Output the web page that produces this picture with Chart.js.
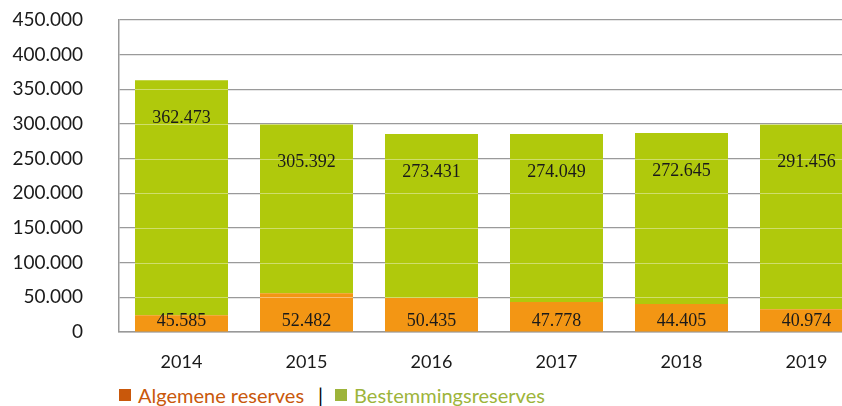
<!DOCTYPE html>
<html>
<head>
<meta charset="utf-8">
<script src="https://cdn.jsdelivr.net/npm/chart.js@4"></script>
<style>
  html, body { margin: 0; padding: 0; background: #fff; }
  #page { position: relative; width: 842px; height: 406px; overflow: hidden; }
  #chart { position: absolute; left: 0; top: 0; }
  #legend {
    position: absolute; left: 119px; top: 383px;
    font-family: Lato, sans-serif; font-size: 20px; line-height: 24px;
    display: flex; align-items: center; white-space: nowrap;
  }
  #legend .sq { display: inline-block; width: 12px; height: 12px; margin-right: 7px; }
  #legend .sep { color: #000; margin: 0 12px 0 14px; }
</style>
</head>
<body>
<div id="page">
  <canvas id="chart" width="870" height="372"></canvas>
  <div id="legend">
    <span class="sq" style="background:#c9580b"></span><span style="color:#c9580b">Algemene reserves</span>
    <span class="sep">|</span>
    <span class="sq" style="background:#9db43a"></span><span style="color:#9db43a">Bestemmingsreserves</span>
  </div>
</div>
<script>
// data
const years = ['2014', '2015', '2016', '2017', '2018', '2019'];
const algemene = [24100, 55900, 49100, 43300, 40400, 32800];
const bestemming = [338900, 243900, 236300, 242100, 246500, 266600];
// printed values in the bars
const algemeneLabels = ['45.585', '52.482', '50.435', '47.778', '44.405', '40.974'];
const bestemmingLabels = ['362.473', '305.392', '273.431', '274.049', '272.645', '291.456'];
const yTicks = [0, 50000, 100000, 150000, 200000, 250000, 300000, 350000, 400000, 450000];

const GREEN = '#b0c90c';
const ORANGE = '#f39614';

function fmt(v) {
  return String(v).replace(/\B(?=(\d{3})+(?!\d))/g, '.');
}

// light gridlines drawn over the bars + value labels
const barOverlay = {
  id: 'barOverlay',
  afterDatasetsDraw(chart) {
    const ctx = chart.ctx;
    const y = chart.scales.y;
    const rects = [];
    chart.data.datasets.forEach((ds, i) => {
      chart.getDatasetMeta(i).data.forEach(b => {
        rects.push({ l: b.x - b.width / 2, r: b.x + b.width / 2, t: Math.min(b.y, b.base), btm: Math.max(b.y, b.base) });
      });
    });
    ctx.save();
    ctx.beginPath();
    rects.forEach(r => ctx.rect(r.l, r.t, r.r - r.l, r.btm - r.t));
    ctx.clip();
    ctx.strokeStyle = 'rgba(255,255,255,0.4)';
    ctx.lineWidth = 1.2;
    yTicks.forEach(t => {
      const py = Math.round(y.getPixelForValue(t)) + 0.5;
      ctx.beginPath();
      ctx.moveTo(chart.chartArea.left, py);
      ctx.lineTo(chart.chartArea.right, py);
      ctx.stroke();
    });
    ctx.restore();

    ctx.save();
    ctx.fillStyle = '#1a1a1a';
    ctx.font = '18px "Liberation Serif", serif';
    ctx.textAlign = 'center';
    ctx.textBaseline = 'middle';
    chart.getDatasetMeta(1).data.forEach((b, i) => {
      ctx.fillText(bestemmingLabels[i], b.x, b.y + 38);
    });
    chart.getDatasetMeta(0).data.forEach((b, i) => {
      ctx.fillText(algemeneLabels[i], b.x, b.base - 10);
    });
    ctx.restore();
  }
};

new Chart(document.getElementById('chart'), {
  type: 'bar',
  data: {
    labels: years,
    datasets: [
      { label: 'Algemene reserves', data: algemene, backgroundColor: ORANGE, borderWidth: 0 },
      { label: 'Bestemmingsreserves', data: bestemming, backgroundColor: GREEN, borderWidth: 0 }
    ]
  },
  options: {
    responsive: false,
    animation: false,
    layout: { padding: { top: 20, right: 1, left: 0, bottom: 0 } },
    datasets: { bar: { categoryPercentage: 1, barPercentage: 0.744 } },
    plugins: { legend: { display: false }, tooltip: { enabled: false } },
    scales: {
      x: {
        stacked: true,
        grid: { display: false, drawTicks: false },
        border: { display: true, color: '#999', width: 1.5 },
        ticks: { color: '#1a1a1a', font: { family: 'Lato', size: 18 }, padding: 19 },
        afterFit(s) { s.height = 40; }
      },
      y: {
        stacked: true,
        min: 0,
        max: 450000,
        afterBuildTicks(s) { s.ticks = yTicks.map(v => ({ value: v })); },
        grid: { color: '#9a9a9a', lineWidth: 1.2, drawTicks: false },
        border: { display: true, color: '#999', width: 1.5 },
        ticks: {
          color: '#1a1a1a',
          font: { family: 'Lato', size: 19 },
          padding: 36,
          callback: v => fmt(v)
        },
        afterFit(s) { s.width = 119; s.paddingTop = 0; s.paddingBottom = 0; }
      }
    }
  },
  plugins: [barOverlay]
});
</script>
</body>
</html>
